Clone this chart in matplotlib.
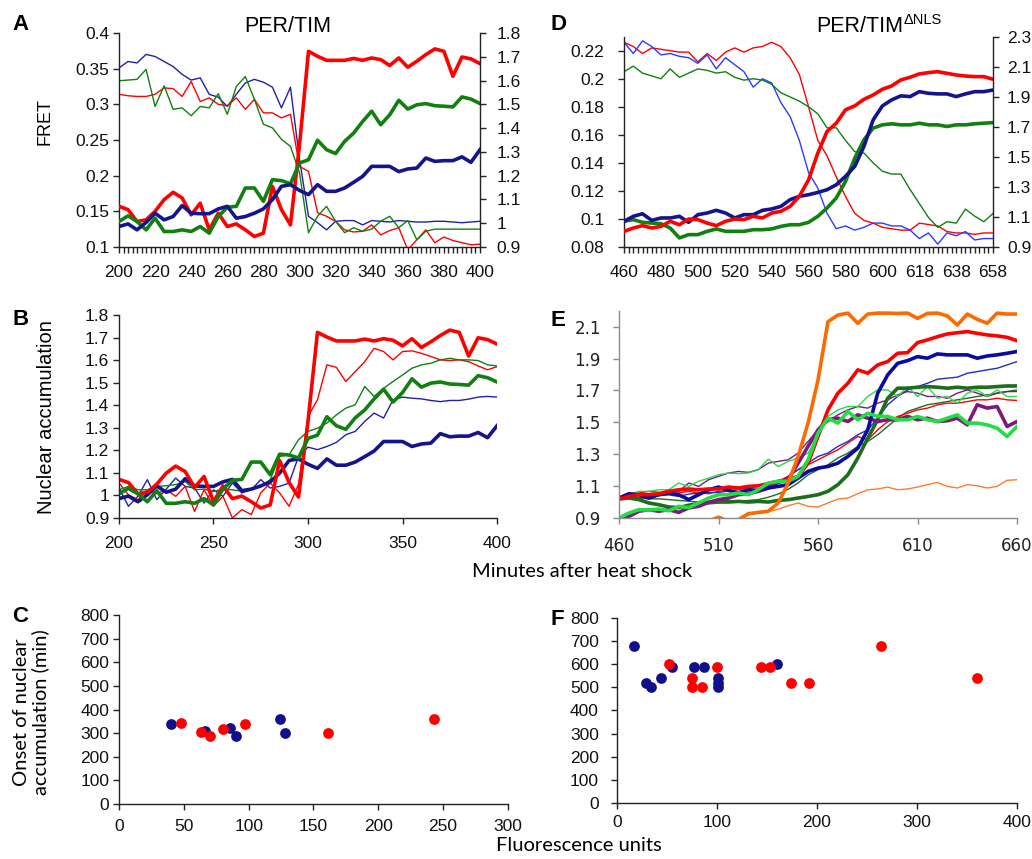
import numpy as np
import matplotlib
matplotlib.use('Agg')
import matplotlib.pyplot as plt
from matplotlib.ticker import MultipleLocator, FixedLocator, FuncFormatter

plt.rcParams['font.family'] = 'Liberation Sans'

# ---------------- data ----------------
# PER/TIM, minutes 200..400 every 5 min
min_ab = np.arange(200, 401, 5)
# thick lines = nuclear accumulation (right axis in A, same cells in B)
nuc_red = [1.071, 1.057, 1.007, 1.014, 1.05, 1.099, 1.13, 1.106, 1.035, 1.084,
           0.972, 1.042, 0.986, 0.997, 0.972, 0.944, 0.958, 1.155, 1.057, 0.993,
           1.328, 1.723, 1.702, 1.685, 1.685, 1.685, 1.693, 1.685, 1.695, 1.688,
           1.663, 1.695, 1.656, 1.681, 1.709, 1.733, 1.723, 1.618, 1.699, 1.691, 1.671]
nuc_blue = [0.986, 0.997, 0.972, 1.003, 1.042, 1.014, 1.028, 1.074, 1.042, 1.04,
            1.04, 1.06, 1.071, 1.021, 1.028, 1.042, 1.06, 1.099, 1.155, 1.162,
            1.138, 1.12, 1.162, 1.134, 1.134, 1.148, 1.172, 1.197, 1.239, 1.239,
            1.239, 1.217, 1.228, 1.232, 1.274, 1.26, 1.263, 1.263, 1.279, 1.256, 1.309]
nuc_green = [1.007, 1.031, 1.007, 0.972, 1.021, 0.965, 0.965, 0.972, 0.965, 0.986,
             0.958, 1.028, 1.067, 1.071, 1.148, 1.148, 1.092, 1.183, 1.179, 1.166,
             1.253, 1.267, 1.349, 1.309, 1.293, 1.344, 1.379, 1.428, 1.471, 1.414,
             1.456, 1.517, 1.48, 1.498, 1.503, 1.494, 1.492, 1.489, 1.531, 1.522, 1.503]
# thin lines in A = FRET (left axis)
fret_blue = [0.351, 0.36, 0.358, 0.37, 0.367, 0.36, 0.353, 0.342, 0.334, 0.337,
             0.314, 0.31, 0.297, 0.314, 0.33, 0.335, 0.331, 0.324, 0.295, 0.324,
             0.223, 0.143, 0.134, 0.124, 0.136, 0.137, 0.137, 0.131, 0.137, 0.136,
             0.135, 0.137, 0.136, 0.135, 0.135, 0.136, 0.136, 0.135, 0.134, 0.135, 0.136]
fret_red = [0.314, 0.312, 0.311, 0.311, 0.314, 0.323, 0.322, 0.311, 0.332, 0.304,
            0.309, 0.3, 0.298, 0.309, 0.293, 0.307, 0.288, 0.288, 0.281, 0.286,
            0.213, 0.206, 0.148, 0.143, 0.136, 0.124, 0.121, 0.122, 0.131, 0.117,
            0.123, 0.127, 0.096, 0.11, 0.124, 0.106, 0.114, 0.109, 0.106, 0.103, 0.104]
fret_green = [0.333, 0.334, 0.335, 0.349, 0.297, 0.326, 0.293, 0.295, 0.284, 0.297,
              0.295, 0.315, 0.286, 0.325, 0.339, 0.307, 0.272, 0.267, 0.251, 0.241,
              0.204, 0.12, 0.143, 0.157, 0.136, 0.12, 0.127, 0.122, 0.125, 0.136,
              0.143, 0.127, 0.137, 0.11, 0.122, 0.125, 0.125, 0.125, 0.125, 0.125, 0.125]
# thin lines in B = other cells
b_red = [1.055, 1.003, 0.981, 1.025, 1.008, 1.025, 0.996, 1.04, 0.929, 1.025,
         0.952, 0.996, 0.9, 0.937, 0.915, 1.011, 1.055, 1.011, 0.952, 1.05,
         1.35, 1.424, 1.579, 1.568, 1.505, 1.549, 1.593, 1.652, 1.638, 1.601,
         1.638, 1.641, 1.63, 1.616, 1.601, 1.598, 1.601, 1.593, 1.574, 1.557, 1.571]
b_green = [1.025, 1.04, 1.025, 1.025, 1.04, 1.043, 1.048, 1.062, 1.025, 1.028,
           1.018, 1.028, 1.025, 1.018, 1.025, 1.04, 1.07, 1.173, 1.18, 1.247,
           1.284, 1.298, 1.321, 1.357, 1.387, 1.402, 1.483, 1.439, 1.475, 1.505,
           1.534, 1.564, 1.579, 1.586, 1.601, 1.608, 1.601, 1.601, 1.598, 1.579, 1.574]
b_blue = [1.033, 0.952, 0.996, 1.07, 0.981, 1.028, 1.077, 1.04, 1.033, 0.966,
          1.025, 0.996, 1.055, 1.011, 1.025, 1.07, 1.033, 1.04, 1.055, 1.173,
          1.214, 1.203, 1.217, 1.235, 1.269, 1.284, 1.328, 1.365, 1.343, 1.424,
          1.436, 1.431, 1.428, 1.421, 1.416, 1.421, 1.421, 1.427, 1.436, 1.439, 1.436]

# PER/TIM-dNLS, minutes 460..660 every 5 min
min_de = np.arange(460, 661, 5)
d_xticks = [460, 480, 500, 520, 540, 560, 580, 600, 620, 640, 660]
d_xticklabels = ['460', '480', '500', '520', '540', '560', '580', '600', '618', '638', '658']
e_xticks = [460, 510, 560, 610, 660]
d_fret_red = [0.226, 0.223, 0.218, 0.222, 0.221, 0.22, 0.219, 0.219, 0.212, 0.218,
              0.213, 0.219, 0.222, 0.219, 0.222, 0.223, 0.226, 0.223, 0.215, 0.203,
              0.18, 0.156, 0.145, 0.13, 0.116, 0.104, 0.099, 0.097, 0.094, 0.093,
              0.092, 0.092, 0.097, 0.096, 0.095, 0.091, 0.09, 0.09, 0.089, 0.09, 0.09]
d_fret_blue = [0.226, 0.218, 0.227, 0.223, 0.217, 0.218, 0.216, 0.215, 0.211, 0.217,
               0.207, 0.215, 0.21, 0.205, 0.194, 0.2, 0.197, 0.183, 0.173, 0.156,
               0.133, 0.122, 0.104, 0.093, 0.095, 0.092, 0.094, 0.097, 0.097, 0.095,
               0.095, 0.092, 0.086, 0.09, 0.082, 0.09, 0.088, 0.091, 0.085, 0.086, 0.086]
d_fret_green = [0.205, 0.209, 0.204, 0.202, 0.2, 0.207, 0.201, 0.204, 0.207, 0.206,
                0.204, 0.205, 0.201, 0.199, 0.2, 0.199, 0.196, 0.19, 0.187, 0.184,
                0.18, 0.175, 0.165, 0.165, 0.156, 0.148, 0.147, 0.14, 0.134, 0.132,
                0.132, 0.121, 0.111, 0.101, 0.094, 0.098, 0.097, 0.107, 0.102, 0.098, 0.104]
d_nuc_red = [1.004, 1.026, 1.042, 1.026, 1.037, 1.071, 1.048, 1.086, 1.082, 1.059,
             1.042, 1.071, 1.086, 1.082, 1.104, 1.093, 1.126, 1.137, 1.17, 1.237,
             1.347, 1.525, 1.669, 1.724, 1.813, 1.839, 1.883, 1.912, 1.95, 1.972,
             2.012, 2.03, 2.052, 2.061, 2.067, 2.056, 2.045, 2.038, 2.034, 2.034, 2.016]
d_nuc_blue = [1.071, 1.104, 1.121, 1.077, 1.093, 1.093, 1.104, 1.064, 1.115, 1.126,
              1.144, 1.126, 1.093, 1.115, 1.115, 1.144, 1.153, 1.17, 1.215, 1.237,
              1.248, 1.263, 1.281, 1.314, 1.37, 1.436, 1.569, 1.746, 1.839, 1.879,
              1.906, 1.901, 1.934, 1.923, 1.919, 1.919, 1.901, 1.919, 1.934, 1.934, 1.945]
d_nuc_green = [1.071, 1.082, 1.064, 1.059, 1.055, 1.026, 0.96, 0.982, 0.982, 1.004,
               1.02, 1.004, 1.004, 1.004, 1.015, 1.015, 1.02, 1.037, 1.048, 1.048,
               1.064, 1.104, 1.159, 1.226, 1.336, 1.491, 1.613, 1.691, 1.713, 1.72,
               1.713, 1.713, 1.724, 1.713, 1.713, 1.702, 1.713, 1.713, 1.72, 1.724, 1.728]

# E: nuclear accumulation of individual PER/TIM-dNLS cells
e_orange_thick = [0.85, 0.85, 0.85, 0.85, 0.85, 0.85, 0.85, 0.85, 0.85, 0.88,
                  0.905, 0.88, 0.89, 0.927, 0.935, 0.942, 0.994, 1.119, 1.286, 1.495,
                  1.766, 2.131, 2.173, 2.185, 2.121, 2.179, 2.185, 2.185, 2.183, 2.185,
                  2.152, 2.183, 2.185, 2.167, 2.11, 2.179, 2.146, 2.121, 2.185, 2.179, 2.179]
e_orange_thin = [0.85, 0.85, 0.85, 0.85, 0.85, 0.85, 0.85, 0.85, 0.85, 0.85,
                 0.85, 0.85, 0.89, 0.92, 0.93, 0.94, 0.955, 0.977, 0.994, 0.973,
                 0.969, 0.994, 1.019, 1.025, 1.052, 1.077, 1.082, 1.094, 1.077, 1.082,
                 1.094, 1.109, 1.123, 1.098, 1.088, 1.109, 1.102, 1.088, 1.098, 1.136, 1.14]
e_red_thick = [1.019, 1.036, 1.046, 1.046, 1.052, 1.067, 1.077, 1.082, 1.077, 1.082,
               1.082, 1.094, 1.088, 1.098, 1.102, 1.115, 1.13, 1.14, 1.161, 1.244,
               1.411, 1.578, 1.683, 1.745, 1.829, 1.808, 1.86, 1.881, 1.933, 1.937,
               2.0, 2.017, 2.037, 2.054, 2.062, 2.069, 2.058, 2.048, 2.042, 2.033, 2.012]
e_red_thin = [1.015, 1.025, 1.057, 1.067, 1.061, 1.052, 1.057, 1.067, 1.057, 1.052,
              1.067, 1.073, 1.077, 1.088, 1.098, 1.109, 1.13, 1.161, 1.203, 1.234,
              1.265, 1.297, 1.328, 1.37, 1.411, 1.39, 1.453, 1.505, 1.537, 1.557,
              1.578, 1.589, 1.61, 1.62, 1.62, 1.63, 1.641, 1.641, 1.651, 1.641, 1.637]
e_navy_thick = [1.025, 1.052, 1.046, 1.025, 1.046, 1.057, 1.046, 1.015, 1.046, 1.077,
                1.094, 1.073, 1.057, 1.077, 1.073, 1.088, 1.098, 1.109, 1.15, 1.192,
                1.213, 1.223, 1.244, 1.286, 1.338, 1.453, 1.683, 1.797, 1.87, 1.887,
                1.912, 1.902, 1.929, 1.923, 1.923, 1.923, 1.902, 1.916, 1.923, 1.933, 1.944]
e_blue_thin = [1.015, 1.03, 1.025, 1.035, 1.04, 1.045, 1.035, 1.05, 1.055, 1.06,
               1.06, 1.07, 1.065, 1.075, 1.08, 1.1, 1.12, 1.161, 1.203, 1.244,
               1.286, 1.307, 1.349, 1.38, 1.422, 1.453, 1.526, 1.61, 1.662, 1.703,
               1.724, 1.745, 1.77, 1.777, 1.783, 1.808, 1.818, 1.829, 1.839, 1.86, 1.881]
e_dkgreen_thick = [1.019, 1.025, 1.015, 0.994, 0.983, 0.969, 0.965, 0.98, 0.99, 0.995,
                   1.0, 1.0, 1.004, 1.0, 1.004, 1.0, 1.01, 1.015, 1.025, 1.035,
                   1.046, 1.067, 1.109, 1.171, 1.276, 1.401, 1.516, 1.651, 1.714, 1.714,
                   1.72, 1.724, 1.72, 1.714, 1.72, 1.714, 1.72, 1.72, 1.724, 1.728, 1.728]
e_dkgreen_thin = [1.035, 1.03, 1.025, 1.02, 1.02, 1.015, 1.01, 1.005, 1.0, 1.005,
                  1.01, 1.01, 1.005, 1.01, 1.015, 1.03, 1.05, 1.08, 1.12, 1.17,
                  1.203, 1.234, 1.276, 1.307, 1.349, 1.38, 1.422, 1.474, 1.526, 1.568,
                  1.589, 1.61, 1.62, 1.63, 1.641, 1.651, 1.662, 1.672, 1.683, 1.693, 1.703]
e_purple_thick = [0.89, 0.91, 0.942, 0.952, 0.942, 0.952, 0.935, 0.963, 0.973, 0.998,
                  1.015, 1.025, 1.046, 1.052, 1.067, 1.088, 1.123, 1.14, 1.244, 1.349,
                  1.453, 1.516, 1.526, 1.505, 1.547, 1.526, 1.505, 1.516, 1.516, 1.537,
                  1.516, 1.526, 1.505, 1.51, 1.526, 1.484, 1.61, 1.589, 1.599, 1.474, 1.505]
e_purple_thin = [1.015, 1.03, 1.046, 1.05, 1.052, 1.06, 1.067, 1.119, 1.098, 1.14,
                 1.161, 1.182, 1.192, 1.186, 1.203, 1.244, 1.255, 1.265, 1.307, 1.38,
                 1.453, 1.505, 1.547, 1.578, 1.599, 1.589, 1.62, 1.641, 1.672, 1.693,
                 1.683, 1.662, 1.662, 1.651, 1.683, 1.703, 1.683, 1.662, 1.683, 1.693, 1.693]
e_bgreen_thick = [0.9, 0.931, 0.952, 0.95, 0.956, 0.945, 0.973, 0.965, 0.994, 1.025,
                  1.046, 1.046, 1.057, 1.046, 1.077, 1.119, 1.13, 1.13, 1.161, 1.265,
                  1.432, 1.526, 1.495, 1.568, 1.516, 1.557, 1.537, 1.537, 1.516, 1.516,
                  1.537, 1.516, 1.505, 1.526, 1.547, 1.495, 1.495, 1.484, 1.463, 1.411, 1.474]
e_bgreen_thin = [1.015, 1.046, 1.067, 1.067, 1.077, 1.077, 1.119, 1.098, 1.13, 1.15,
                 1.171, 1.182, 1.178, 1.182, 1.203, 1.269, 1.223, 1.255, 1.276, 1.307,
                 1.411, 1.537, 1.578, 1.599, 1.599, 1.662, 1.703, 1.703, 1.662, 1.724,
                 1.662, 1.724, 1.651, 1.662, 1.62, 1.683, 1.703, 1.662, 1.703, 1.662, 1.662]

# C / F: onset of nuclear accumulation vs fluorescence
c_navy_x = [40, 66, 86, 90, 124, 128]
c_navy_y = [340, 310, 320, 290, 360, 300]
c_red_x = [48, 63, 70, 80, 97, 161, 243]
c_red_y = [345, 303, 290, 318, 340, 300, 360]
f_navy_x = [17, 29, 34, 44, 55, 77, 87, 101, 101, 101, 160]
f_navy_y = [680, 520, 500, 540, 590, 590, 590, 540, 520, 500, 600]
f_red_x = [52, 75, 75, 85, 100, 144, 153, 174, 192, 264, 360]
f_red_y = [600, 540, 500, 500, 590, 590, 590, 520, 520, 680, 540]

# ---------------- styling ----------------
RED = '#ff0000'
NAVY = '#14148c'
GREEN = '#118011'
BLUE_A = '#2020a8'
BLUE_D = '#2a3cff'
THICK = 2.6
THIN = 1.0
TICKFS = 12.5
CAL = 'Lato'

fmt = FuncFormatter(lambda v, p: f"{round(v, 3):g}")


def frame(ax, color='#222222', right=False):
    ax.spines['top'].set_visible(False)
    ax.spines['right'].set_visible(right)
    for s in ax.spines.values():
        s.set_color(color)
        s.set_linewidth(1.0)
    ax.tick_params(colors=color, labelcolor='#111111', labelsize=TICKFS,
                   direction='out', length=4, width=1.0)
    ax.yaxis.set_major_formatter(fmt)


fig = plt.figure(figsize=(10.32, 8.59), dpi=100)

# ---- A ----
axA = fig.add_axes([0.1153, 0.7125, 0.3498, 0.2491])
axA2 = axA.twinx()
axA.plot(min_ab, fret_blue, color=BLUE_A, lw=THIN)
axA.plot(min_ab, fret_red, color=RED, lw=THIN)
axA.plot(min_ab, fret_green, color=GREEN, lw=THIN)
axA2.plot(min_ab, nuc_red, color=RED, lw=THICK)
axA2.plot(min_ab, nuc_green, color=GREEN, lw=THICK)
axA2.plot(min_ab, nuc_blue, color=NAVY, lw=THICK)
axA.set_xlim(200, 400)
axA.set_ylim(0.1, 0.4)
axA2.set_ylim(0.9, 1.8)
axA.yaxis.set_major_locator(MultipleLocator(0.05))
axA2.yaxis.set_major_locator(MultipleLocator(0.1))
axA.xaxis.set_major_locator(MultipleLocator(20))
axA.xaxis.set_minor_locator(MultipleLocator(2.5))
frame(axA)
frame(axA2, right=True)
axA2.spines['left'].set_visible(False)
axA2.spines['bottom'].set_visible(False)
axA.tick_params(axis='x', pad=9)
axA.tick_params(axis='x', which='minor', length=4, width=1.0, color='#222222')
axA.tick_params(axis='y', pad=3)
axA2.tick_params(axis='y', pad=8)

# ---- D ----
axD = fig.add_axes([0.6047, 0.7125, 0.3576, 0.2448])
axD2 = axD.twinx()
axD.plot(min_de, d_fret_red, color=RED, lw=THIN)
axD.plot(min_de, d_fret_blue, color=BLUE_D, lw=THIN)
axD.plot(min_de, d_fret_green, color=GREEN, lw=THIN)
axD2.plot(min_de, d_nuc_green, color=GREEN, lw=THICK)
axD2.plot(min_de, d_nuc_blue, color=NAVY, lw=THICK)
axD2.plot(min_de, d_nuc_red, color=RED, lw=THICK)
axD.set_xlim(460, 660)
axD.set_ylim(0.08, 0.23)
axD2.set_ylim(0.9, 2.3)
axD.yaxis.set_major_locator(FixedLocator([0.08, 0.1, 0.12, 0.14, 0.16, 0.18, 0.2, 0.22]))
axD2.yaxis.set_major_locator(FixedLocator([0.9, 1.1, 1.3, 1.5, 1.7, 1.9, 2.1, 2.3]))
axD.xaxis.set_major_locator(FixedLocator(d_xticks))
axD.xaxis.set_minor_locator(MultipleLocator(2.5))
axD.set_xticklabels(d_xticklabels)
frame(axD)
frame(axD2, right=True)
axD2.spines['left'].set_visible(False)
axD2.spines['bottom'].set_visible(False)
axD.tick_params(axis='x', pad=9)
axD.tick_params(axis='x', which='minor', length=4, width=1.0, color='#222222')
axD.tick_params(axis='y', pad=10)
axD2.tick_params(axis='y', pad=6)

# ---- B ----
axB = fig.add_axes([0.1153, 0.3970, 0.3663, 0.2363])
axB.plot(min_ab, b_blue, color=BLUE_A, lw=THIN)
axB.plot(min_ab, b_red, color=RED, lw=THIN)
axB.plot(min_ab, b_green, color=GREEN, lw=THIN)
axB.plot(min_ab, nuc_blue, color=NAVY, lw=THICK)
axB.plot(min_ab, nuc_red, color=RED, lw=THICK)
axB.plot(min_ab, nuc_green, color=GREEN, lw=THICK)
axB.set_xlim(200, 400)
axB.set_ylim(0.9, 1.8)
axB.yaxis.set_major_locator(MultipleLocator(0.1))
axB.xaxis.set_major_locator(MultipleLocator(50))
frame(axB)
axB.tick_params(axis='x', pad=9)
axB.tick_params(axis='y', pad=3)

# ---- E ----
axE = fig.add_axes([0.5998, 0.3970, 0.3857, 0.2413])
e_series = [
    (e_orange_thin, '#ff7a2a', THIN), (e_dkgreen_thin, '#1c6e1c', THIN),
    (e_red_thin, RED, THIN), (e_blue_thin, '#1f2fc0', THIN),
    (e_purple_thin, '#7d1a7d', THIN), (e_bgreen_thin, '#22dd44', THIN),
    (e_dkgreen_thick, '#1c6e1c', THICK), (e_purple_thick, '#7d1a7d', THICK),
    (e_navy_thick, '#0a0aa0', THICK), (e_red_thick, RED, THICK),
    (e_bgreen_thick, '#22dd44', THICK), (e_orange_thick, '#ff6a00', THICK),
]
for vals, col, lw in e_series:
    axE.plot(min_de, vals, color=col, lw=lw)
axE.set_xlim(460, 660)
axE.set_ylim(0.9, 2.2)
axE.yaxis.set_major_locator(FixedLocator([0.9, 1.1, 1.3, 1.5, 1.7, 1.9, 2.1]))
axE.xaxis.set_major_locator(FixedLocator(e_xticks))
frame(axE, color='#8c8c8c')
axE.tick_params(labelfontfamily='DejaVu Sans', labelsize=12, labelcolor='#222222')
axE.tick_params(axis='x', pad=10)
axE.tick_params(axis='y', pad=9)

# ---- C ----
axC = fig.add_axes([0.1153, 0.0640, 0.3769, 0.2200])
axC.scatter(c_navy_x, c_navy_y, s=60, color='#10108a', zorder=3, linewidths=0)
axC.scatter(c_red_x, c_red_y, s=60, color=RED, zorder=4, linewidths=0)
axC.set_xlim(0, 300)
axC.set_ylim(0, 800)
axC.xaxis.set_major_locator(MultipleLocator(50))
axC.yaxis.set_major_locator(MultipleLocator(100))
frame(axC)
axC.tick_params(axis='x', pad=7)
axC.tick_params(axis='y', pad=3)

# ---- F ----
axF = fig.add_axes([0.5979, 0.0652, 0.3876, 0.2154])
axF.scatter(f_navy_x, f_navy_y, s=60, color='#10108a', zorder=3, linewidths=0)
axF.scatter(f_red_x, f_red_y, s=60, color=RED, zorder=4, linewidths=0)
axF.set_xlim(0, 400)
axF.set_ylim(0, 800)
axF.xaxis.set_major_locator(MultipleLocator(100))
axF.yaxis.set_major_locator(MultipleLocator(100))
frame(axF)
axF.tick_params(axis='x', pad=5)
axF.tick_params(axis='y', pad=9)

# ---------------- texts ----------------
W, H = 1032.0, 859.0
for letter, px, py in [('A', 12, 30), ('D', 550, 30), ('B', 12, 325),
                       ('E', 550, 326), ('C', 12, 622), ('F', 550, 625)]:
    fig.text(px / W, 1 - py / H, letter, fontsize=16, fontweight='bold',
             ha='left', va='baseline')

fig.text(288 / W, 1 - 32 / H, 'PER/TIM', fontsize=15.5, ha='center', va='baseline')
fig.text(903 / W, 1 - 32 / H, 'PER/TIM', fontsize=15.5, ha='right', va='baseline')
fig.text(904 / W, 1 - 24 / H, '\u0394NLS', fontsize=10.5, ha='left', va='baseline')

fig.text(45 / W, 1 - 122 / H, 'FRET', fontsize=13, rotation=90, ha='center', va='center')
fig.text(47 / W, 1 - 417 / H, 'Nuclear accumulation', fontsize=14.5, rotation=90,
         ha='center', va='center')
fig.text(582 / W, 1 - 577 / H, 'Minutes after heat shock', fontsize=14.5,
         family=CAL, ha='center', va='baseline')
fig.text(579 / W, 1 - 851 / H, 'Fluorescence units', fontsize=14.5,
         family=CAL, ha='center', va='baseline')
fig.text(31 / W, 1 - 712 / H, 'Onset of nuclear\naccumulation (min)', fontsize=14.5,
         family=CAL, rotation=90, ha='center', va='center', multialignment='center',
         linespacing=1.1)

fig.savefig('out.png', dpi=100)
